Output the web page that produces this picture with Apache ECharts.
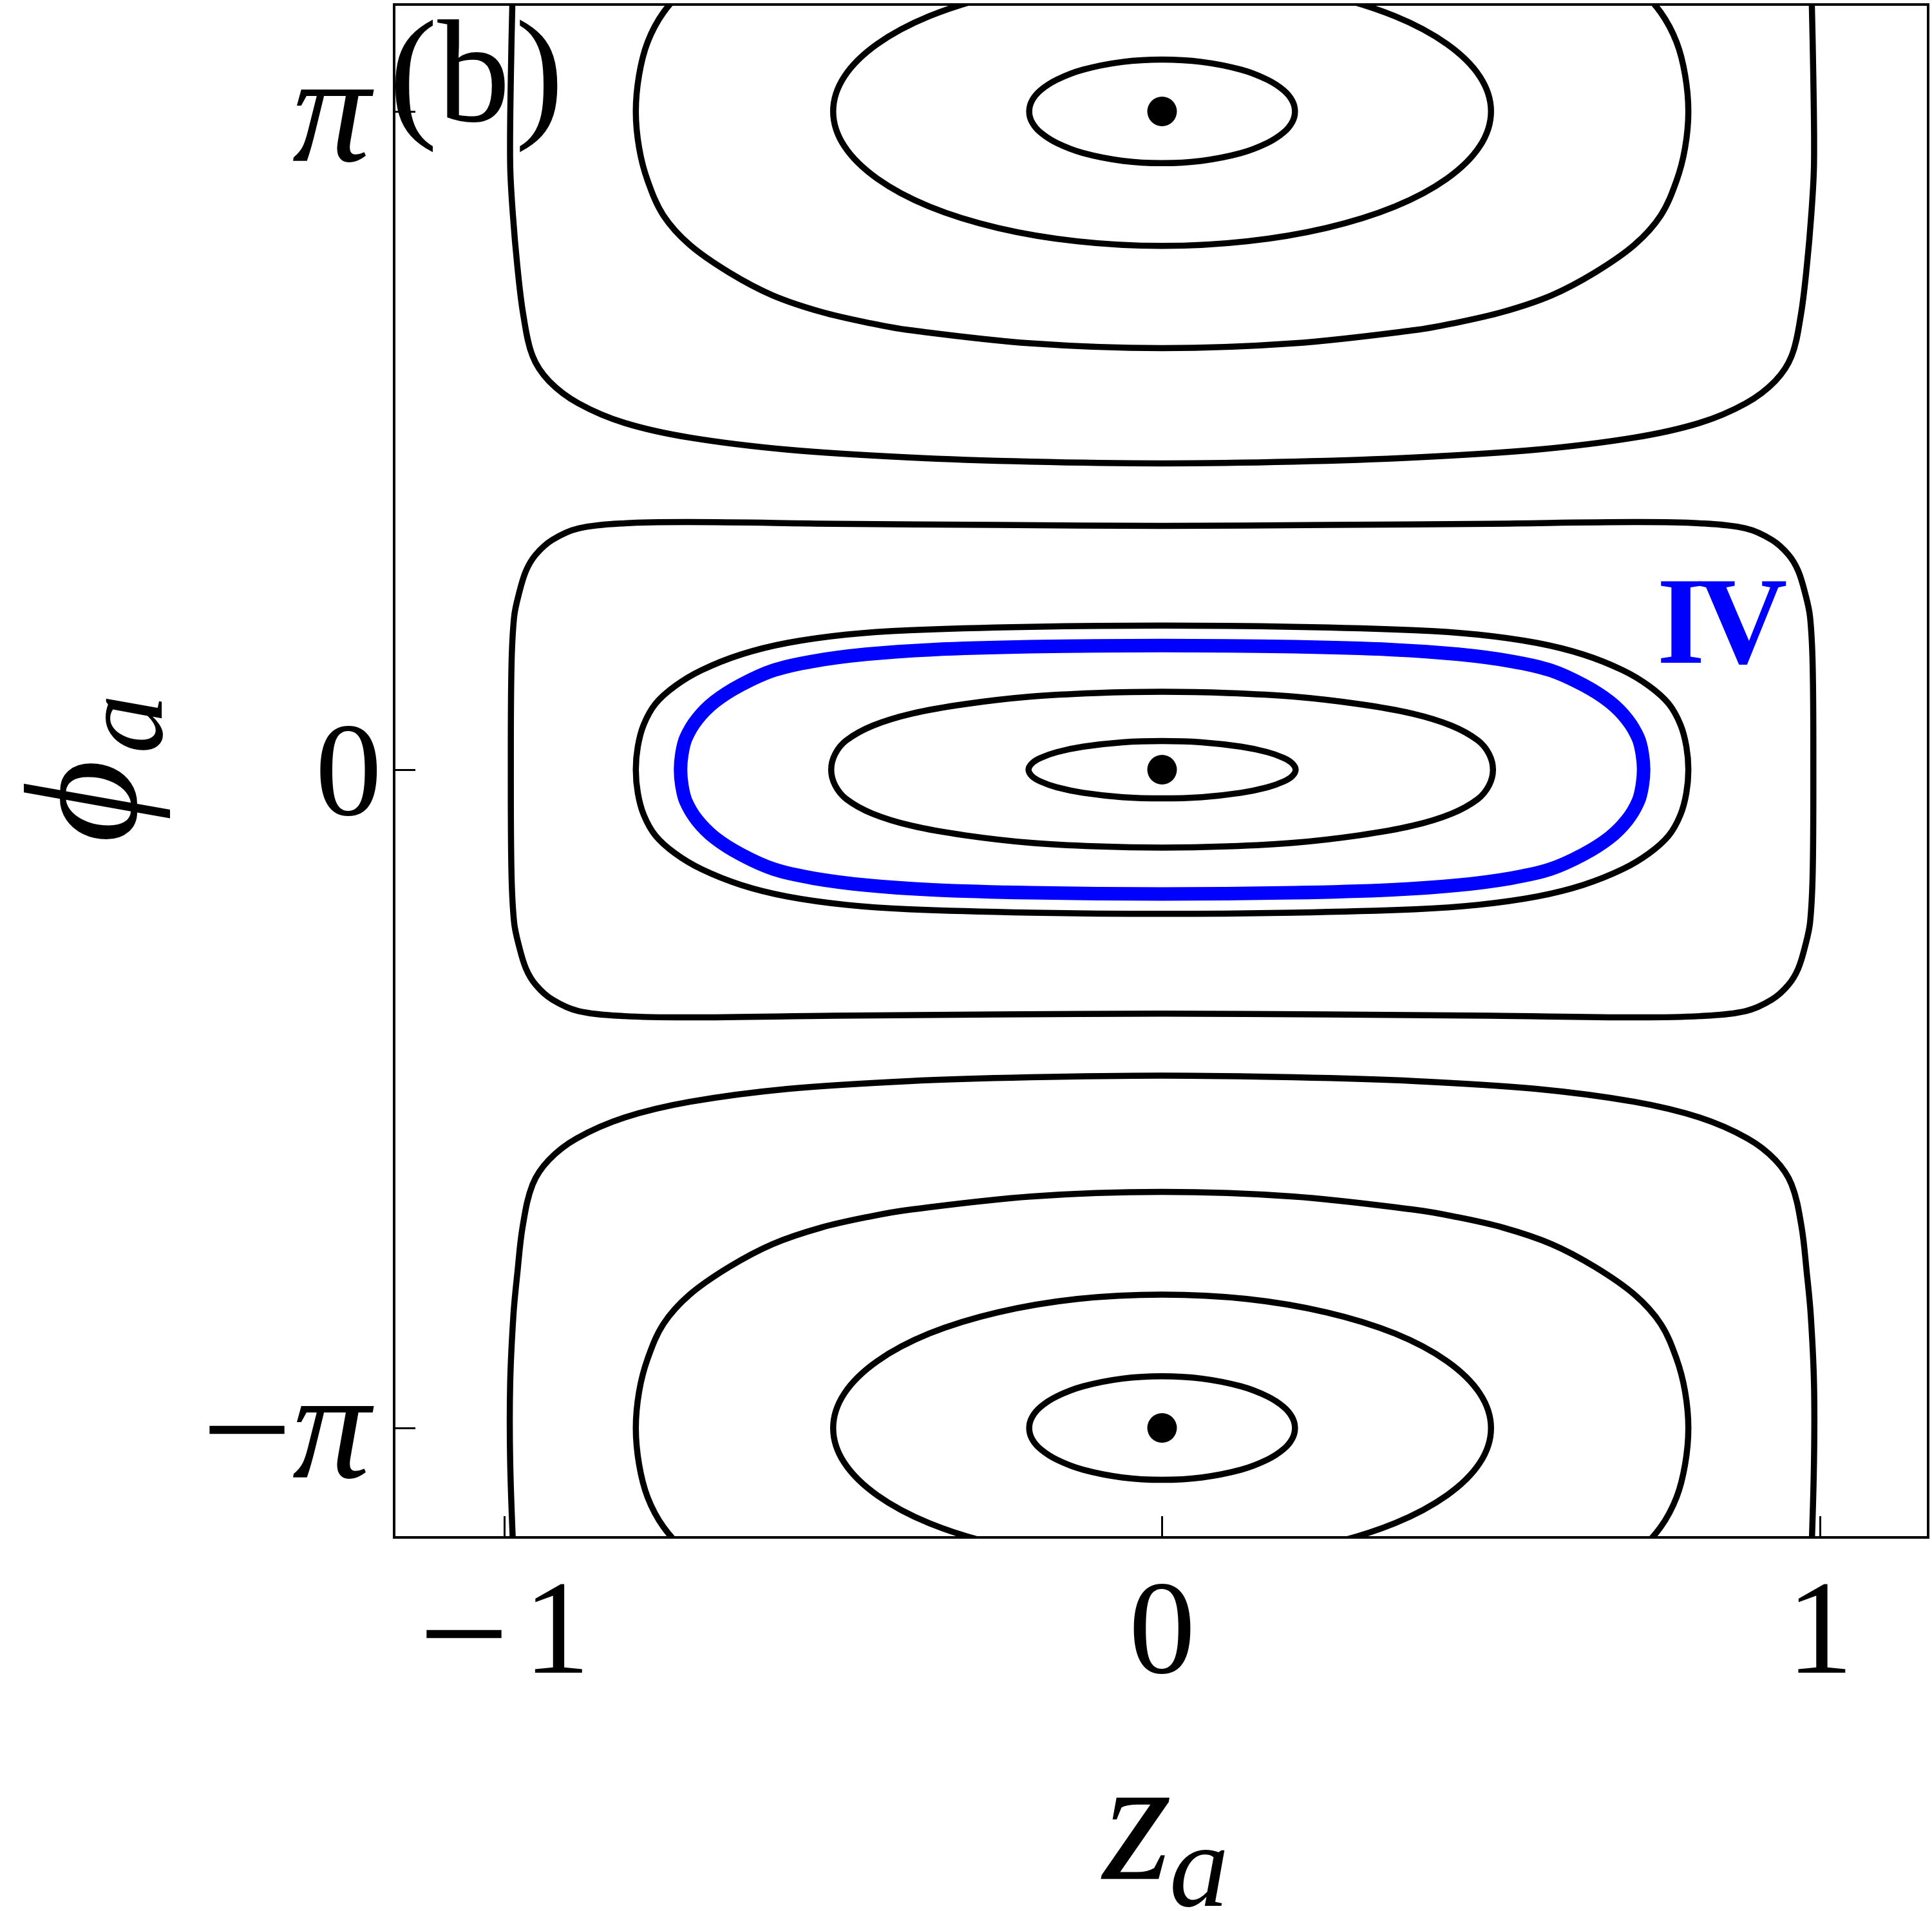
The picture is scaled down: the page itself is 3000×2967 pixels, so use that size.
<!DOCTYPE html>
<html>
<head>
<meta charset="utf-8">
<script src="https://cdn.jsdelivr.net/npm/echarts@6/dist/echarts.min.js"></script>
<style>
html,body{margin:0;padding:0;background:#fff;}
#chart{width:3000px;height:2967px;}
</style>
</head>
<body>
<div id="chart"></div>
<script>
// ---------- tick values / labels ----------
const zTicks = [-1, 0, 1];
const zTickLabels = ['{m|\u2212}{n|1}', '{n|0}', '{n|1}'];
const phiTicks = [-3.14159, 0, 3.14159];
const phiTickLabels = ['{m|\u2212}{i|\u03c0}', '{n|0}', '{i|\u03c0}'];

// ---------- fixed points (z, phi) ----------
const fixedPoints = [[0, 0], [0, 3.14159], [0, -3.14159]];

// ---------- closed orbits around phi = 0 ----------
const centerSmall = [[0,0.137],[-0.06,0.131],[-0.12,0.110],[-0.16,0.084],[-0.185,0.056],[-0.198,0.030],[-0.203,0],[-0.198,-0.030],[-0.185,-0.056],[-0.16,-0.084],[-0.12,-0.110],[-0.06,-0.131],[0,-0.137],[0.06,-0.131],[0.12,-0.110],[0.16,-0.084],[0.185,-0.056],[0.198,-0.030],[0.203,0],[0.198,0.030],[0.185,0.056],[0.16,0.084],[0.12,0.110],[0.06,0.131]];
const centerMid = [[0,0.372],[-0.1,0.366],[-0.2,0.349],[-0.3,0.313],[-0.38,0.268],[-0.44,0.210],[-0.48,0.140],[-0.497,0.075],[-0.503,0],[-0.497,-0.075],[-0.48,-0.140],[-0.44,-0.210],[-0.38,-0.268],[-0.3,-0.313],[-0.2,-0.349],[-0.1,-0.366],[0,-0.372],[0.1,-0.366],[0.2,-0.349],[0.3,-0.313],[0.38,-0.268],[0.44,-0.210],[0.48,-0.140],[0.497,-0.075],[0.503,0],[0.497,0.075],[0.48,0.140],[0.44,0.210],[0.38,0.268],[0.3,0.313],[0.2,0.349],[0.1,0.366]];
const blueOrbitIV = [[0,0.593],[-0.2,0.587],[-0.35,0.573],[-0.45,0.551],[-0.53,0.518],[-0.59,0.475],[-0.64,0.405],[-0.68,0.325],[-0.707,0.24],[-0.724,0.15],[-0.730,0.075],[-0.732,0],[-0.730,-0.075],[-0.724,-0.15],[-0.707,-0.24],[-0.68,-0.325],[-0.64,-0.405],[-0.59,-0.475],[-0.53,-0.518],[-0.45,-0.551],[-0.35,-0.573],[-0.2,-0.587],[0,-0.593],[0.2,-0.587],[0.35,-0.573],[0.45,-0.551],[0.53,-0.518],[0.59,-0.475],[0.64,-0.405],[0.68,-0.325],[0.707,-0.24],[0.724,-0.15],[0.730,-0.075],[0.732,0],[0.730,0.075],[0.724,0.15],[0.707,0.24],[0.68,0.325],[0.64,0.405],[0.59,0.475],[0.53,0.518],[0.45,0.551],[0.35,0.573],[0.2,0.587]];
const centerOuter = [[0,0.688],[-0.2,0.682],[-0.384,0.666],[-0.48,0.645],[-0.57,0.605],[-0.64,0.550],[-0.70,0.475],[-0.74,0.400],[-0.77,0.315],[-0.788,0.215],[-0.797,0.11],[-0.800,0],[-0.797,-0.11],[-0.788,-0.215],[-0.77,-0.315],[-0.74,-0.400],[-0.70,-0.475],[-0.64,-0.550],[-0.57,-0.605],[-0.48,-0.645],[-0.384,-0.666],[-0.2,-0.682],[0,-0.688],[0.2,-0.682],[0.384,-0.666],[0.48,-0.645],[0.57,-0.605],[0.64,-0.550],[0.70,-0.475],[0.74,-0.400],[0.77,-0.315],[0.788,-0.215],[0.797,-0.11],[0.800,0],[0.797,0.11],[0.788,0.215],[0.77,0.315],[0.74,0.400],[0.70,0.475],[0.64,0.550],[0.57,0.605],[0.48,0.645],[0.384,0.666],[0.2,0.682]];
const centerRect = [[0,1.164],[-0.25,1.168],[-0.5,1.174],[-0.718,1.182],[-0.817,1.176],[-0.887,1.152],[-0.927,1.097],[-0.952,1.027],[-0.967,0.949],[-0.978,0.836],[-0.985,0.729],[-0.989,0.494],[-0.990,0],[-0.989,-0.494],[-0.985,-0.729],[-0.978,-0.836],[-0.967,-0.949],[-0.952,-1.027],[-0.927,-1.097],[-0.887,-1.152],[-0.817,-1.176],[-0.718,-1.182],[-0.5,-1.174],[-0.25,-1.168],[0,-1.164],[0.25,-1.168],[0.5,-1.174],[0.718,-1.182],[0.817,-1.176],[0.887,-1.152],[0.927,-1.097],[0.952,-1.027],[0.967,-0.949],[0.978,-0.836],[0.985,-0.729],[0.989,-0.494],[0.990,0],[0.989,0.494],[0.985,0.729],[0.978,0.836],[0.967,0.949],[0.952,1.027],[0.927,1.097],[0.887,1.152],[0.817,1.176],[0.718,1.182],[0.5,1.174],[0.25,1.168]];

// ---------- orbits around phi = +pi (upper parts run past the frame) ----------
const topSmall = [[0,3.389],[-0.06,3.378],[-0.12,3.341],[-0.16,3.293],[-0.185,3.242],[-0.198,3.192],[-0.202,3.142],[-0.198,3.092],[-0.185,3.042],[-0.16,2.991],[-0.12,2.943],[-0.06,2.906],[0,2.895],[0.06,2.906],[0.12,2.943],[0.16,2.991],[0.185,3.042],[0.198,3.092],[0.202,3.142],[0.198,3.192],[0.185,3.242],[0.16,3.293],[0.12,3.341],[0.06,3.378]];
const topMid = [[0,3.784],[-0.129,3.762],[-0.25,3.698],[-0.354,3.596],[-0.433,3.463],[-0.483,3.308],[-0.5,3.142],[-0.483,2.976],[-0.433,2.821],[-0.354,2.688],[-0.25,2.586],[-0.129,2.522],[0,2.500],[0.129,2.522],[0.25,2.586],[0.354,2.688],[0.433,2.821],[0.483,2.976],[0.5,3.142],[0.483,3.308],[0.433,3.463],[0.354,3.596],[0.25,3.698],[0.129,3.762]];
const topOuter = [[0,4.272],[-0.2,4.249],[-0.384,4.186],[-0.442,4.154],[-0.518,4.099],[-0.592,4.02],[-0.658,3.911],[-0.718,3.753],[-0.758,3.614],[-0.782,3.473],[-0.795,3.316],[-0.800,3.142],[-0.795,2.968],[-0.782,2.811],[-0.758,2.645],[-0.718,2.505],[-0.658,2.373],[-0.592,2.264],[-0.518,2.185],[-0.442,2.130],[-0.384,2.098],[-0.2,2.035],[0,2.012],[0.2,2.035],[0.384,2.098],[0.442,2.130],[0.518,2.185],[0.592,2.264],[0.658,2.373],[0.718,2.505],[0.758,2.645],[0.782,2.811],[0.795,2.968],[0.800,3.142],[0.795,3.316],[0.782,3.473],[0.758,3.614],[0.718,3.753],[0.658,3.911],[0.592,4.02],[0.518,4.099],[0.442,4.154],[0.384,4.186],[0.2,4.249]];
const topCup = [[-0.987,3.75],[-0.990,3.30],[-0.991,2.89],[-0.987,2.654],[-0.980,2.40],[-0.971,2.17],[-0.957,1.975],[-0.932,1.855],[-0.887,1.748],[-0.817,1.655],[-0.718,1.585],[-0.568,1.527],[-0.384,1.490],[-0.2,1.470],[0,1.462],[0.2,1.470],[0.384,1.490],[0.568,1.527],[0.718,1.585],[0.817,1.655],[0.887,1.748],[0.932,1.855],[0.957,1.975],[0.971,2.17],[0.980,2.40],[0.987,2.654],[0.991,2.89],[0.990,3.30],[0.987,3.75]];

// ---------- orbits around phi = -pi (lower parts run past the frame) ----------
const bottomSmall = [[0,-2.895],[-0.06,-2.906],[-0.12,-2.943],[-0.16,-2.991],[-0.185,-3.042],[-0.198,-3.092],[-0.202,-3.142],[-0.198,-3.192],[-0.185,-3.242],[-0.16,-3.293],[-0.12,-3.341],[-0.06,-3.378],[0,-3.389],[0.06,-3.378],[0.12,-3.341],[0.16,-3.293],[0.185,-3.242],[0.198,-3.192],[0.202,-3.142],[0.198,-3.092],[0.185,-3.042],[0.16,-2.991],[0.12,-2.943],[0.06,-2.906]];
const bottomMid = [[0,-2.505],[-0.129,-2.526],[-0.25,-2.590],[-0.354,-2.691],[-0.433,-2.823],[-0.483,-2.977],[-0.5,-3.142],[-0.483,-3.308],[-0.433,-3.463],[-0.354,-3.596],[-0.25,-3.698],[-0.129,-3.762],[0,-3.784],[0.129,-3.762],[0.25,-3.698],[0.354,-3.596],[0.433,-3.463],[0.483,-3.308],[0.5,-3.142],[0.483,-2.977],[0.433,-2.823],[0.354,-2.691],[0.25,-2.590],[0.129,-2.526]];
const bottomOuter = [[0,-2.015],[-0.2,-2.037],[-0.384,-2.100],[-0.442,-2.131],[-0.518,-2.185],[-0.592,-2.264],[-0.658,-2.373],[-0.718,-2.505],[-0.758,-2.645],[-0.782,-2.811],[-0.795,-2.968],[-0.800,-3.142],[-0.795,-3.316],[-0.782,-3.473],[-0.758,-3.614],[-0.718,-3.753],[-0.658,-3.911],[-0.592,-4.02],[-0.518,-4.099],[-0.442,-4.154],[-0.384,-4.186],[-0.2,-4.249],[0,-4.272],[0.2,-4.249],[0.384,-4.186],[0.442,-4.154],[0.518,-4.099],[0.592,-4.02],[0.658,-3.911],[0.718,-3.753],[0.758,-3.614],[0.782,-3.473],[0.795,-3.316],[0.800,-3.142],[0.795,-2.968],[0.782,-2.811],[0.758,-2.645],[0.718,-2.505],[0.658,-2.373],[0.592,-2.264],[0.518,-2.185],[0.442,-2.131],[0.384,-2.100],[0.2,-2.037]];
const bottomCap = [[-0.986,-3.75],[-0.991,-3.30],[-0.991,-2.93],[-0.986,-2.60],[-0.980,-2.40],[-0.972,-2.18],[-0.957,-1.980],[-0.932,-1.862],[-0.890,-1.760],[-0.817,-1.660],[-0.718,-1.585],[-0.568,-1.523],[-0.384,-1.486],[-0.2,-1.468],[0,-1.460],[0.2,-1.468],[0.384,-1.486],[0.568,-1.523],[0.718,-1.585],[0.817,-1.660],[0.890,-1.760],[0.932,-1.862],[0.957,-1.980],[0.972,-2.18],[0.980,-2.40],[0.986,-2.60],[0.991,-2.93],[0.991,-3.30],[0.987,-3.75]];

const closedBlack = [centerSmall, centerMid, centerOuter, centerRect, topSmall, topMid, topOuter, bottomSmall, bottomMid, bottomOuter];
const openBlack = [topCup, bottomCap];

const FONT = '"Liberation Serif", "Times New Roman", serif';
const BLACK_W = 9.5;

// A curve drawn as one smooth path; every point is mapped through the axes with api.coord
function curveSeries(pts, closed, color, width) {
  return {
    type: 'custom', coordinateSystem: 'cartesian2d', data: pts,
    encode: { x: 0, y: 1 }, clip: true, silent: true, animation: false, z: 2,
    renderItem: function (params, api) {
      if (params.dataIndex !== 0) return null;
      const pix = pts.map(p => api.coord(p));
      const cs = params.coordSys;
      return {
        type: closed ? 'polygon' : 'polyline',
        shape: { points: pix, smooth: 0.35 },
        style: { fill: 'none', stroke: color, lineWidth: width, lineJoin: 'round', lineCap: 'butt' },
        clipPath: { type: 'rect', shape: { x: cs.x, y: cs.y, width: cs.width, height: cs.height } }
      };
    }
  };
}

const series = [];
closedBlack.forEach(c => series.push(curveSeries(c, true, '#000000', BLACK_W)));
openBlack.forEach(c => series.push(curveSeries(c, false, '#000000', BLACK_W)));
series.push(curveSeries(blueOrbitIV, true, '#0000ff', 21));
series.push({
  type: 'scatter', data: fixedPoints, symbol: 'circle', symbolSize: 46,
  itemStyle: { color: '#000000', opacity: 1 }, silent: true, animation: false, z: 5
});

const chart = echarts.init(document.getElementById('chart'), null, { renderer: 'canvas' });
chart.setOption({
  backgroundColor: '#ffffff',
  animation: false,
  grid: { left: 612, top: 7, width: 2382, height: 2380, show: true, borderColor: '#000', borderWidth: 4, backgroundColor: 'transparent' },
  xAxis: {
    type: 'value', min: -1.1674, max: 1.1645,
    axisLine: { show: false, onZero: false },
    splitLine: { show: false },
    axisTick: { show: true, inside: true, length: 33, lineStyle: { color: '#000', width: 3 }, customValues: zTicks },
    axisLabel: {
      customValues: zTicks, margin: 52, color: '#000',
      formatter: function (v) { const i = zTicks.indexOf(v); return i >= 0 ? zTickLabels[i] : ''; },
      rich: {
        n: { fontFamily: FONT, fontSize: 207, lineHeight: 207, color: '#000', verticalAlign: 'middle' },
        m: { fontFamily: FONT, fontSize: 250, lineHeight: 207, color: '#000', verticalAlign: 'middle', padding: [24, 22, 0, 0] }
      }
    }
  },
  yAxis: {
    type: 'value', min: -3.664, max: 3.652,
    axisLine: { show: false, onZero: false },
    splitLine: { show: false },
    axisTick: { show: true, inside: true, length: 33, lineStyle: { color: '#000', width: 3 }, customValues: phiTicks },
    axisLabel: {
      customValues: phiTicks, margin: 19, color: '#000',
      formatter: function (v) {
        let best = 0, d = 1e9;
        phiTicks.forEach((t, k) => { if (Math.abs(t - v) < d) { d = Math.abs(t - v); best = k; } });
        return phiTickLabels[best];
      },
      rich: {
        n: { fontFamily: FONT, fontSize: 207, lineHeight: 207, color: '#000', verticalAlign: 'middle', padding: [32, 0, 0, 0] },
        m: { fontFamily: FONT, fontSize: 250, lineHeight: 207, color: '#000', verticalAlign: 'middle', padding: [40, 0, 0, 0] },
        i: { fontFamily: FONT, fontSize: 242, lineHeight: 207, fontStyle: 'italic', color: '#000', verticalAlign: 'middle', padding: [26, 18, 0, 0] }
      }
    }
  },
  series: series,
  graphic: [
    { type: 'text', x: 604, y: 129, z: 100,
      style: { text: '(b', font: '226px ' + FONT, fill: '#000', align: 'left', verticalAlign: 'middle', textAlign: 'left', textVerticalAlign: 'middle' } },
    { type: 'text', x: 800, y: 129, z: 100,
      style: { text: ')', font: '226px ' + FONT, fill: '#000', align: 'left', verticalAlign: 'middle', textAlign: 'left', textVerticalAlign: 'middle' } },
    { type: 'text', x: 2610, y: 979, z: 100,
      style: { text: 'I', font: 'bold 192px ' + FONT, fill: '#0000ff', align: 'center', verticalAlign: 'middle', textAlign: 'center', textVerticalAlign: 'middle' } },
    { type: 'text', x: 2706, y: 979, z: 100,
      style: { text: 'V', font: 'bold 192px ' + FONT, fill: '#0000ff', align: 'center', verticalAlign: 'middle', textAlign: 'center', textVerticalAlign: 'middle' } },
    { type: 'text', x: 1766, y: 2845, z: 100,
      style: { text: 'z', font: 'italic 275px ' + FONT, fill: '#000', align: 'center', verticalAlign: 'middle', textAlign: 'center', textVerticalAlign: 'middle' } },
    { type: 'text', x: 1862, y: 2910, z: 100,
      style: { text: 'a', font: 'italic 185px ' + FONT, fill: '#000', align: 'center', verticalAlign: 'middle', textAlign: 'center', textVerticalAlign: 'middle' } },
    { type: 'text', x: 145, y: 1244, rotation: Math.PI / 2, z: 100,
      style: { text: '\u03d5', font: 'italic 250px ' + FONT, fill: '#000', align: 'center', verticalAlign: 'middle', textAlign: 'center', textVerticalAlign: 'middle' } },
    { type: 'text', x: 202, y: 1124, rotation: Math.PI / 2, z: 100,
      style: { text: 'a', font: 'italic 185px ' + FONT, fill: '#000', align: 'center', verticalAlign: 'middle', textAlign: 'center', textVerticalAlign: 'middle' } }
  ]
});
</script>
</body>
</html>
